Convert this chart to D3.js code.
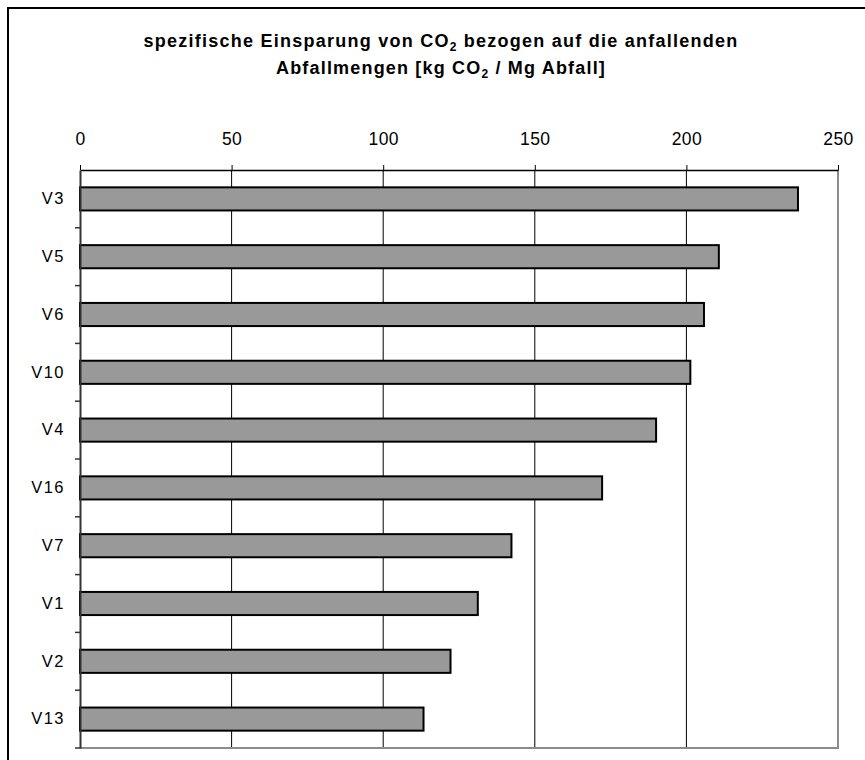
<!DOCTYPE html>
<html>
<head>
<meta charset="utf-8">
<script src="https://cdn.jsdelivr.net/npm/d3@7"></script>
<style>
  body { margin: 0; background: #fff; }
  svg { display: block; font-family: "Liberation Sans", Arial, sans-serif; }
</style>
</head>
<body>
<div id="chart"></div>
<script>
// data (kg CO2 / Mg Abfall)
var categories = ["V3", "V5", "V6", "V10", "V4", "V16", "V7", "V1", "V2", "V13"];
var values = [236.8, 210.7, 205.8, 201.3, 190.0, 172.2, 142.3, 131.2, 122.2, 113.3];
var tickValues = [0, 50, 100, 150, 200, 250];

var data = categories.map(function(c, i) { return {name: c, value: values[i]}; });

var W = 865, H = 760;
var plot = {left: 80, right: 838, top: 170, bottom: 748};

var svg = d3.select("#chart").append("svg")
    .attr("width", W)
    .attr("height", H);

// outer frame (runs off the right and bottom of the picture)
svg.append("rect")
    .attr("x", 8).attr("y", 8)
    .attr("width", W + 20).attr("height", H + 20)
    .attr("fill", "#fff")
    .attr("stroke", "#000")
    .attr("stroke-width", 2);

// title, two lines, stretched to the width seen in the picture
function titleLine(yPos, before, after, target) {
    var t = svg.append("text")
        .attr("x", 441).attr("y", yPos)
        .attr("text-anchor", "middle")
        .attr("font-weight", "bold")
        .attr("font-size", 18)
        .attr("fill", "#000");
    t.append("tspan").text(before);
    t.append("tspan").attr("font-size", 12).attr("dy", 4).text("2");
    t.append("tspan").attr("dy", -4).text(after);
    var len = t.node().getComputedTextLength();
    var n = (before + "2" + after).length;
    t.attr("letter-spacing", (target - len) / n);
    return t;
}
titleLine(47, "spezifische Einsparung von CO", " bezogen auf die anfallenden", 595);
titleLine(74, "Abfallmengen [kg CO", " / Mg Abfall]", 330);

var x = d3.scaleLinear().domain([0, 250]).range([plot.left, plot.right]);
var y = d3.scaleBand().domain(categories)
    .range([plot.top, plot.bottom])
    .paddingInner(0.6).paddingOuter(0.3);

// gridlines
svg.append("g").selectAll("line")
    .data(tickValues.filter(function(d) { return d > 0 && d < 250; }))
  .enter().append("line")
    .attr("x1", function(d) { return x(d); })
    .attr("x2", function(d) { return x(d); })
    .attr("y1", plot.top).attr("y2", plot.bottom)
    .attr("stroke", "#000").attr("stroke-width", 1);

// right and bottom plot border
svg.append("path")
    .attr("d", "M" + plot.right + "," + plot.top + "V" + plot.bottom + "H" + plot.left)
    .attr("fill", "none")
    .attr("stroke", "#8c8c8c")
    .attr("stroke-width", 2);

// bars
svg.append("g").selectAll("rect")
    .data(data)
  .enter().append("rect")
    .attr("x", x(0))
    .attr("y", function(d) { return y(d.name); })
    .attr("width", function(d) { return x(d.value) - x(0); })
    .attr("height", y.bandwidth())
    .attr("fill", "#999999")
    .attr("stroke", "#000")
    .attr("stroke-width", 2);

// top axis
var xAxis = d3.axisTop(x).tickValues(tickValues).tickSize(5).tickPadding(20).tickSizeOuter(0);
var gx = svg.append("g")
    .attr("transform", "translate(0," + plot.top + ")")
    .call(xAxis);
gx.selectAll("text").attr("font-size", 17.5).attr("fill", "#000").attr("font-family", null)
    .attr("letter-spacing", 0.4);
gx.select(".domain").attr("stroke", "#000").attr("stroke-width", 1.5);

// left axis: labels centred in the band, ticks between categories
var yAxis = d3.axisLeft(y).tickSize(0).tickPadding(15);
var gy = svg.append("g")
    .attr("transform", "translate(" + plot.left + ",0)")
    .call(yAxis);
gy.selectAll("text").attr("font-size", 16.5).attr("fill", "#000").attr("font-family", null)
    .attr("letter-spacing", 1.5);
gy.select(".domain").attr("stroke", "#333").attr("stroke-width", 2);

var edges = d3.range(1, categories.length + 1).map(function(i) {
    return plot.top + (plot.bottom - plot.top) * i / categories.length;
});
gy.selectAll(".cat-tick")
    .data(edges)
  .enter().append("line")
    .attr("class", "cat-tick")
    .attr("x1", -5).attr("x2", 0)
    .attr("y1", function(d) { return d; })
    .attr("y2", function(d) { return d; })
    .attr("stroke", "#333").attr("stroke-width", 1.5);
</script>
</body>
</html>
